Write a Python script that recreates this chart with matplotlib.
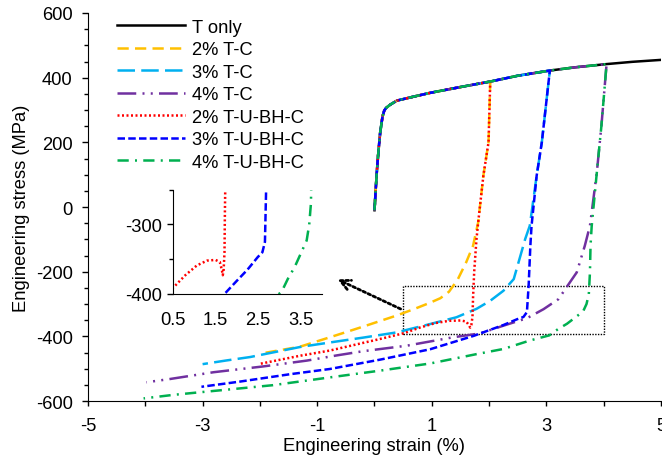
import matplotlib.pyplot as plt
from matplotlib.ticker import MultipleLocator, FixedLocator
from matplotlib.patches import Rectangle

plt.rcParams['font.family'] = ['Liberation Sans', 'DejaVu Sans']
plt.rcParams['axes.unicode_minus'] = False

# tension only curve (strain %, stress MPa)
t_strain = [0.0, 0.02, 0.04, 0.07, 0.1, 0.14, 0.17, 0.2, 0.27, 0.39, 0.7, 0.97, 1.5, 2.02,
            2.5, 3.06, 3.5, 4.05, 4.5, 5.0]
t_stress = [-10, 50, 107, 175, 231, 280, 298, 306, 316, 329, 342, 353, 371, 388,
            406, 422, 432, 442, 449, 455]

# unload + compression branches (after the tensile prestrain point)
tc2_strain = [1.99, 1.9, 1.81, 1.72, 1.6, 1.45, 1.3, 1.15, 0.97, 0.7, 0.38, -0.2, -0.78, -1.3,
              -1.88, -2.0]
tc2_stress = [200, 97, -47, -120, -171, -225, -262, -282, -296, -315, -336, -370, -403, -432,
              -450, -455]

tc3_strain = [2.92, 2.83, 2.71, 2.63, 2.43, 2.25, 2.02, 1.78, 1.43, 0.97, 0.38, -0.2, -0.78, -1.3,
              -2.17, -2.6, -3.0]
tc3_stress = [200, 97, -58, -99, -223, -259, -290, -315, -341, -362, -388, -404, -419, -433,
              -464, -475, -486]

tc4_strain = [3.96, 3.88, 3.76, 3.67, 3.53, 3.41, 3.21, 2.95, 2.66, 2.25, 1.84, 1.37, 0.56, -0.2,
              -0.66, -1.18, -1.94, -2.81, -3.57, -3.98]
tc4_stress = [251, 107, -58, -120, -202, -233, -285, -316, -344, -367, -391, -403, -429, -446,
              -459, -475, -493, -511, -532, -542]

bh2_strain = [1.99, 1.9, 1.81, 1.78, 1.74, 1.72, 1.71, 1.69, 1.67, 1.65, 1.6, 1.5, 1.3, 1.06,
              0.79, 0.52, 0.1, -0.78, -1.3, -2.0]
bh2_stress = [200, 97, -47, -99, -200, -280, -340, -365, -373, -366, -354, -351, -352, -359,
              -373, -390, -408, -444, -460, -485]

bh3_strain = [2.92, 2.83, 2.74, 2.72, 2.69, 2.66, 2.6, 2.49, 2.25, 2.0, 1.74, 0.97, 0.1, -0.78,
              -1.47, -2.35, -3.02]
bh3_stress = [200, 97, -60, -120, -243, -325, -340, -347, -365, -381, -398, -440, -472, -501,
              -517, -540, -556]

bh4_strain = [3.96, 3.88, 3.79, 3.77, 3.76, 3.74, 3.7, 3.64, 3.53, 3.36, 3.2, 3.05, 2.71, 2.25,
              1.78, 0.97, 0.1, -0.78, -1.77, -2.58, -3.05, -3.51, -4.03]
bh4_stress = [251, 107, -60, -120, -202, -270, -300, -323, -338, -361, -378, -397, -413, -439,
              -455, -484, -506, -527, -551, -565, -573, -581, -592]

x_ticks = [-5, -3, -1, 1, 3, 5]
inset_x_ticks = [0.5, 1.5, 2.5, 3.5]


def full_curve(pre, strain, stress):
    # tensile part up to the prestrain, then unload / compression branch
    n = t_strain.index(pre) + 1
    return t_strain[:n] + strain, t_stress[:n] + stress


lw = 1.8
fs = 13.2
series = [
    ('2% T-C', 2.02, tc2_strain, tc2_stress, '#FFC000', (0, (4.5, 2.5))),
    ('3% T-C', 3.06, tc3_strain, tc3_stress, '#00B0F0', (0, (7, 2.5))),
    ('4% T-C', 4.05, tc4_strain, tc4_stress, '#7030A0', (0, (7.5, 2.5, 0.8, 2.5, 0.8, 2.5))),
    ('2% T-U-BH-C', 2.02, bh2_strain, bh2_stress, '#FF0000', (0, (0.8, 1.0))),
    ('3% T-U-BH-C', 3.06, bh3_strain, bh3_stress, '#0000FF', (0, (3, 1.3))),
    ('4% T-U-BH-C', 4.05, bh4_strain, bh4_stress, '#00B050', (0, (4.5, 2.5, 0.8, 2.5))),
]

fig = plt.figure(figsize=(6.62, 4.56), dpi=100)
ax = fig.add_axes([0.1329, 0.1184, 0.8656, 0.8509])

ax.plot(t_strain, t_stress, color='black', lw=lw, label='T only')
for name, pre, s, st, c, ls in series:
    x, y = full_curve(pre, s, st)
    ax.plot(x, y, color=c, lw=lw, linestyle=ls, label=name)

ax.set_xlim(-5, 5)
ax.set_ylim(-600, 600)
ax.xaxis.set_major_locator(FixedLocator(x_ticks))
ax.xaxis.set_minor_locator(MultipleLocator(1))
ax.yaxis.set_major_locator(MultipleLocator(200))
ax.yaxis.set_minor_locator(MultipleLocator(50))
ax.tick_params(which='both', direction='out', labelsize=fs, width=1)
ax.tick_params(axis='y', which='major', length=4, pad=7)
ax.tick_params(axis='y', which='minor', length=3)
ax.tick_params(axis='x', which='both', length=3.5, pad=7.8)
for sp in ['top', 'right']:
    ax.spines[sp].set_visible(False)
ax.set_xlabel('Engineering strain (%)', fontsize=fs, labelpad=2.5)
ax.set_ylabel('Engineering stress (MPa)', fontsize=fs, labelpad=4)

ax.legend(loc='upper left', bbox_to_anchor=(0.1767, 0.9565), bbox_transform=fig.transFigure,
          frameon=False, fontsize=fs, handlelength=3.7, handletextpad=0.38,
          labelspacing=0.3, borderpad=0, borderaxespad=0)

# zoomed region box and arrow
ax.add_patch(Rectangle((0.5, -393), 3.5, 148, fill=False, linestyle=(0, (1, 1)),
                       lw=1, edgecolor='black'))
ax.annotate('', xy=(-0.69, -220), xytext=(0.5, -319),
            arrowprops=dict(arrowstyle='->', lw=2, linestyle=(0, (1, 1)),
                            color='black', mutation_scale=18))

# inset
ins = fig.add_axes([0.2613, 0.3531, 0.2251, 0.2287])
for name, pre, s, st, c, ls in series[3:]:
    x, y = full_curve(pre, s, st)
    ins.plot(x, y, color=c, lw=lw, linestyle=ls)
ins.set_xlim(0.5, 4.0)
ins.set_ylim(-400, -250)
ins.xaxis.set_major_locator(FixedLocator(inset_x_ticks))
ins.yaxis.set_major_locator(FixedLocator([-400, -300]))
ins.yaxis.set_minor_locator(FixedLocator([-350, -250]))
ins.tick_params(which='both', direction='out', labelsize=fs, width=1)
ins.tick_params(axis='y', which='major', length=4, pad=4)
ins.tick_params(axis='y', which='minor', length=3)
ins.tick_params(axis='x', length=0, pad=12)
for sp in ['top', 'right']:
    ins.spines[sp].set_visible(False)
ins.patch.set_alpha(0)

fig.savefig('out.png', dpi=100)
